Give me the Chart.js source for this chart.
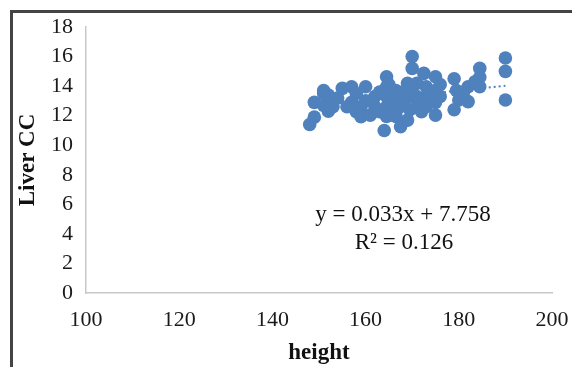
<!DOCTYPE html>
<html>
<head>
<meta charset="utf-8">
<script src="https://cdn.jsdelivr.net/npm/chart.js@4.4.1/dist/chart.umd.min.js"></script>
<style>
  html, body { margin: 0; padding: 0; background: #fff; overflow: hidden; }
  #wrap { position: relative; width: 572px; height: 367px; overflow: hidden; }
  #frame { position: absolute; left: 10px; top: 10px; width: 640px; height: 420px; border: 3px solid #444; box-sizing: border-box; }
  #c { position: absolute; left: 0; top: 0; }
</style>
</head>
<body>
<div id="wrap">
  <div id="frame"></div>
  <canvas id="c" width="572" height="367"></canvas>
</div>
<script>
// Data
const heights = [148, 149, 149, 151, 151, 152, 151, 155, 154, 157, 160, 158, 159, 161, 157, 160, 162, 163,
                 164.5, 164.5, 164.5, 164.5, 164.5, 164, 166.5, 166.5, 166.5, 167.5, 169, 170, 170, 169.5, 169.5, 169,
                 171, 171, 172.5, 173, 173, 175, 175, 175, 175, 172, 179, 179.5, 180, 179, 182, 182, 184.5, 184.5, 183.5, 184.5,
                 190, 190, 190, 153, 152,
                 162, 163, 165.5, 166, 168, 168, 170, 171, 172, 176, 176, 173, 156, 158, 159, 181, 167, 165];
const liverCC = [11.4, 11.9, 12.9, 13.5, 13.7, 12.3, 12.7, 13.85, 13.2, 13.96, 13.96, 12.27, 11.93, 12.04, 12.9, 13.0, 12.6, 12.27,
                 14.63, 13.96, 13.3, 12.6, 11.95, 11.0, 13.7, 12.9, 11.95, 11.25, 14.19, 16.0, 15.2, 13.3, 12.4, 11.7,
                 14.19, 12.6, 14.86, 13.96, 13.3, 14.63, 13.7, 12.9, 12.04, 12.27, 14.5, 13.7, 13.06, 12.4, 13.96, 12.95, 15.2, 14.6, 14.3, 13.96,
                 15.9, 15.0, 13.06, 12.6, 13.4,
                 13.3, 13.6, 12.3, 12.3, 12.9, 13.6, 13.9, 13.3, 12.9, 13.3, 14.1, 12.6, 12.6, 13.5, 12.6, 13.6, 12.5, 14.1];
const trendX = [148, 190];
const trendY = [12.642, 14.028];
const xTicks = [100, 120, 140, 160, 180, 200];
const yTicks = [0, 2, 4, 6, 8, 10, 12, 14, 16, 18];
const equationLines = ["y = 0.033x + 7.758", "R² = 0.126"];

const blue = '#4F81BD';
const serif = "'Liberation Serif', 'Times New Roman', serif";

const equationPlugin = {
  id: 'equation',
  afterDraw(chart) {
    const ctx = chart.ctx;
    ctx.save();
    ctx.fillStyle = '#111';
    ctx.font = "23px " + serif;
    ctx.textAlign = 'center';
    ctx.textBaseline = 'middle';
    ctx.fillText(equationLines[0], 403, 215);
    ctx.fillText(equationLines[1], 404, 243);
    ctx.restore();
  }
};

new Chart(document.getElementById('c'), {
  type: 'scatter',
  data: {
    datasets: [
      {
        type: 'line',
        data: trendX.map((x, i) => ({ x: x, y: trendY[i] })),
        borderColor: blue,
        borderWidth: 2,
        borderDash: [2, 3],
        pointRadius: 0,
        fill: false,
        order: 0
      },
      {
        data: heights.map((h, i) => ({ x: h, y: liverCC[i] })),
        backgroundColor: blue,
        borderWidth: 0,
        pointRadius: 6.8,
        pointHoverRadius: 6.8,
        order: 1
      }
    ]
  },
  options: {
    responsive: false,
    animation: false,
    events: [],
    layout: { padding: { left: 0, top: 27, right: 20, bottom: 0 } },
    plugins: { legend: { display: false }, tooltip: { enabled: false } },
    scales: {
      x: {
        type: 'linear',
        min: 100, max: 200,
        afterBuildTicks: (s) => { s.ticks = xTicks.map(v => ({ value: v })); },
        afterFit: (s) => { s.height = 74; s.paddingRight = 0; s.paddingLeft = 0; },
        grid: { display: true, drawOnChartArea: false, drawTicks: false },
        border: { display: true, color: '#c8c8c8', width: 1.5 },
        ticks: { padding: 14, color: '#1a1a1a', font: { family: serif, size: 22 }, maxRotation: 0 },
        title: { display: true, text: 'height', color: '#111', font: { family: serif, size: 23, weight: 'bold' }, padding: { top: 0, bottom: 0 } }
      },
      y: {
        type: 'linear',
        min: 0, max: 18,
        afterBuildTicks: (s) => { s.ticks = yTicks.map(v => ({ value: v })); },
        afterFit: (s) => { s.width = 86; s.paddingTop = 0; s.paddingBottom = 0; },
        grid: { display: true, drawOnChartArea: false, drawTicks: false },
        border: { display: true, color: '#c8c8c8', width: 1.5 },
        ticks: { padding: 13, color: '#1a1a1a', font: { family: serif, size: 22 } },
        title: { display: true, text: 'Liver CC', color: '#111', font: { family: serif, size: 23, weight: 'bold' }, padding: { top: 14, bottom: 0 } }
      }
    }
  },
  plugins: [equationPlugin]
});
</script>
</body>
</html>
